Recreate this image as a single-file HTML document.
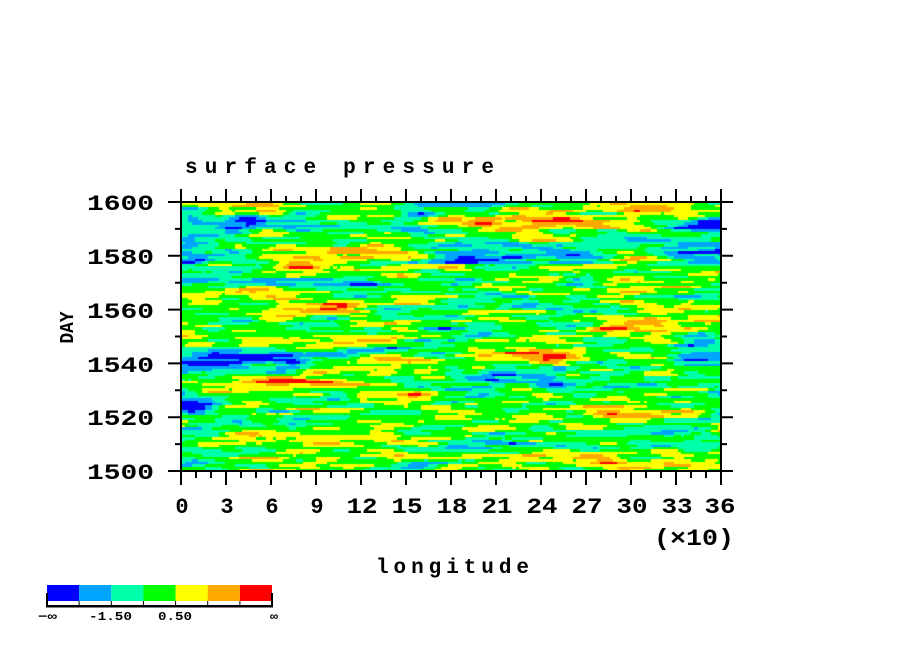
<!DOCTYPE html>
<html><head><meta charset="utf-8">
<style>
html,body{margin:0;padding:0;background:#fff;}
#wrap{position:relative;width:904px;height:654px;overflow:hidden;background:#fff;}
#cv{position:absolute;left:181px;top:202px;width:540px;height:269px;background:#00ff00;}
svg{position:absolute;left:0;top:0;}
text{font-family:"Liberation Mono","DejaVu Sans Mono",monospace;fill:#000;}
</style></head>
<body><div id="wrap">
<canvas id="cv" width="540" height="269"></canvas>
<svg width="904" height="654" viewBox="0 0 904 654" xmlns="http://www.w3.org/2000/svg">
<g stroke="#000" stroke-width="2" fill="none">
<rect x="181" y="202" width="540" height="269"/>
<path id="ticks" d=""/>
</g>
<text x="185" y="173" font-size="21" font-weight="bold" textLength="309" lengthAdjust="spacing">surface pressure</text>
<g font-size="22" font-weight="bold">
<text x="87" y="210" textLength="67" lengthAdjust="spacingAndGlyphs">1600</text>
<text x="87" y="264" textLength="67" lengthAdjust="spacingAndGlyphs">1580</text>
<text x="87" y="318" textLength="67" lengthAdjust="spacingAndGlyphs">1560</text>
<text x="87" y="372" textLength="67" lengthAdjust="spacingAndGlyphs">1540</text>
<text x="87" y="425" textLength="67" lengthAdjust="spacingAndGlyphs">1520</text>
<text x="87" y="479" textLength="67" lengthAdjust="spacingAndGlyphs">1500</text>
</g>
<g font-size="22" font-weight="bold" text-anchor="middle">
<text x="182" y="513">0</text>
<text x="227" y="513">3</text>
<text x="272" y="513">6</text>
<text x="317" y="513">9</text>
<text x="362" y="513" textLength="31" lengthAdjust="spacingAndGlyphs">12</text>
<text x="407" y="513" textLength="31" lengthAdjust="spacingAndGlyphs">15</text>
<text x="452" y="513" textLength="31" lengthAdjust="spacingAndGlyphs">18</text>
<text x="497" y="513" textLength="31" lengthAdjust="spacingAndGlyphs">21</text>
<text x="542" y="513" textLength="31" lengthAdjust="spacingAndGlyphs">24</text>
<text x="587" y="513" textLength="31" lengthAdjust="spacingAndGlyphs">27</text>
<text x="632" y="513" textLength="31" lengthAdjust="spacingAndGlyphs">30</text>
<text x="677" y="513" textLength="31" lengthAdjust="spacingAndGlyphs">33</text>
<text x="720" y="513" textLength="31" lengthAdjust="spacingAndGlyphs">36</text>
</g>
<text x="654" y="545" font-size="23" font-weight="bold" textLength="80" lengthAdjust="spacingAndGlyphs">(×10)</text>
<text x="376" y="573" font-size="21" font-weight="bold" textLength="153" lengthAdjust="spacing">longitude</text>
<text transform="translate(73,327.5) rotate(-90)" x="0" y="0" font-size="19" font-weight="bold" text-anchor="middle" textLength="32" lengthAdjust="spacingAndGlyphs">DAY</text>
<g>
<rect x="47" y="585" width="32.2" height="16" fill="#0000ff"/>
<rect x="79.1" y="585" width="32.2" height="16" fill="#00a5ff"/>
<rect x="111.3" y="585" width="32.2" height="16" fill="#00ffaa"/>
<rect x="143.4" y="585" width="32.2" height="16" fill="#00ff00"/>
<rect x="175.6" y="585" width="32.2" height="16" fill="#ffff00"/>
<rect x="207.7" y="585" width="32.2" height="16" fill="#ffaa00"/>
<rect x="239.9" y="585" width="32.1" height="16" fill="#ff0000"/>
<rect x="46" y="605" width="227" height="2.5" fill="#000"/>
<rect x="46" y="593" width="2" height="14" fill="#000"/>
<rect x="271" y="593" width="2" height="14" fill="#000"/>
<rect x="78.6" y="601" width="1" height="4" fill="#000"/>
<rect x="110.8" y="601" width="1" height="4" fill="#000"/>
<rect x="142.9" y="601" width="1" height="4" fill="#000"/>
<rect x="175.1" y="601" width="1" height="4" fill="#000"/>
<rect x="207.2" y="601" width="1" height="4" fill="#000"/>
<rect x="239.4" y="601" width="1" height="4" fill="#000"/>
</g>
<g font-size="12" font-weight="bold" text-anchor="middle">
<text x="47.5" y="620" textLength="19" lengthAdjust="spacingAndGlyphs">−∞</text>
<text x="110.5" y="620" textLength="43" lengthAdjust="spacingAndGlyphs">-1.50</text>
<text x="175" y="620" textLength="34" lengthAdjust="spacingAndGlyphs">0.50</text>
<text x="274" y="620" textLength="8" lengthAdjust="spacingAndGlyphs">∞</text>
</g>
</svg>
</div>
<script>
(function(){
  var d="";
  var i,y,x;
  for(i=0;i<=5;i++){y=471-i*53.8;d+="M168 "+y+"H181M721 "+y+"H733";}
  for(i=0;i<5;i++){y=471-(i+0.5)*53.8;d+="M175 "+y+"H181M721 "+y+"H727";}
  for(i=0;i<=36;i++){x=181+i*15;
    if(i%3==0){d+="M"+x+" 471V485M"+x+" 202V189";}
    else{d+="M"+x+" 471V478M"+x+" 202V196";}
  }
  document.getElementById("ticks").setAttribute("d",d);

  var cv=document.getElementById("cv");
  var ctx=cv.getContext("2d");
  var W=540,H=269,NX=160,NY=110;
  var s=2463534242;
  function r(){s^=(s<<13);s>>>=0;s^=(s>>>17);s^=(s<<5);s>>>=0;return s/4294967296;}
  function g(){var u=0;for(var k=0;k<6;k++)u+=r();return (u-3)*1.4142;}
  var B=[
   [5.5,1597.5,2.5,1.5,1.4],[12,1582,1.8,2,1.3],[15,1581,2,2,1.3],[10,1575,6,3,0.7],
   [4.5,1567,2.5,1.5,1.2],[9,1560,2.2,2,1.6],[14.5,1563,2,1.5,1.5],[24,1593,3,2,2.2],
   [32,1598,3.5,1.8,1.3],[25,1573,3,2.5,1.2],[32,1565,2,2,0.8],[32,1555,3,3,1.2],
   [10,1549,7,1.5,1.0],[7,1533,3.5,1.8,2.2],[15,1541,2,1.8,1.5],[24.5,1543,2.8,2,2.2],
   [15,1527,1.8,1.5,1.1],[11.5,1512,2.5,2,1.3],[31.5,1522,2.5,2,1.4],[25,1517,6,3,0.5],
   [28,1504,5,3,1.3],[5,1511,4,2,0.8],[20,1525,3,2,0.4],[22,1587,4,1.5,0.7],
   [4.5,1592,3,1.5,-1.6],[0.8,1580,1.5,5,-1.3],[3,1571,3.5,2,-1.3],[11.5,1570,3,1,-1.1],
   [19,1597.5,1.8,1.5,-1.6],[21,1581,4.5,3,-1.3],[19.5,1578.5,2.5,1,-1.1],[35,1582,1.8,2.5,-1.5],
   [19.5,1552,2.5,2,-1.6],[2,1541,3,3.5,-2.1],[7,1542,3,1.5,-1.0],[20.5,1535,3,2.5,-2.2],
   [35,1543,2,3,-1.6],[1,1524,1.5,4,-1.5],[35,1520,1.3,2,-1.5],[20,1510,3,3,-1.0],
   [1,1506,2,3,-1.0],[35,1592,1.5,2,-1.2],[27,1585,4,2,-0.5],[16,1590,3,1.5,-0.5]
  ];
  var MX=20,MY=42,M=[];
  for(var a=0;a<MX;a++){M.push([]);for(var b=0;b<MY;b++)M[a].push(g());}
  function mid(lon,day){
    var fx=lon/2, fy=(1600-day)/2.5;
    var ax=Math.floor(fx),ay=Math.floor(fy),tx=fx-ax,ty=fy-ay;
    if(ax>MX-2){ax=MX-2;tx=1;} if(ay>MY-2){ay=MY-2;ty=1;}
    return M[ax][ay]*(1-tx)*(1-ty)+M[ax+1][ay]*tx*(1-ty)+M[ax][ay+1]*(1-tx)*ty+M[ax+1][ay+1]*tx*ty;
  }
  var wt=[],HW=7;
  for(i=-HW;i<=HW;i++)wt.push(HW+1-Math.abs(i));
  var nrm=0;for(i=0;i<wt.length;i++)nrm+=wt[i]*wt[i];nrm=Math.sqrt(nrm);
  var prev=null,rho=0.35,q=Math.sqrt(1-rho*rho);
  var CI=[];
  for(var j=0;j<NY;j++){
    var w=[];for(i=0;i<NX+wt.length;i++)w.push(g());
    var row=[];
    for(i=0;i<NX;i++){var t=0;for(var k=0;k<wt.length;k++)t+=wt[k]*w[i+k];t/=nrm;
      if(prev)t=rho*prev[i]+q*t;row.push(t);}
    prev=row;
    var day=1600-(j+0.5)*100/NY;
    var crow=[];
    for(i=0;i<NX;i++){
      var lon=(i+0.5)*36/NX;
      var v=-0.2+0.4*mid(lon,day)+0.7*row[i];
      for(var n=0;n<B.length;n++){var bb=B[n];var dx=(lon-bb[0])/bb[2],dy=(day-bb[1])/bb[3];
        var e=0.5*(dx*dx+dy*dy); if(e<12)v+=1.2*bb[4]*Math.exp(-e);}
      var c;
      if(v<-2.5)c=0;else if(v<-1.5)c=1;else if(v<-0.5)c=2;else if(v<0.5)c=3;else if(v<1.5)c=4;else if(v<2.5)c=5;else c=6;
      crow.push(c);
    }
    CI.push(crow);
  }
  var P=[[0,0,255],[0,165,255],[0,255,170],[0,255,0],[255,255,0],[255,170,0],[255,0,0]];
  var img=ctx.createImageData(W,H),D=img.data;
  for(var py=0;py<H;py++){
    var jj=Math.min(NY-1,Math.floor(py*NY/H));
    for(var px=0;px<W;px++){
      var ii=Math.min(NX-1,Math.floor(px*NX/W));
      var p=P[CI[jj][ii]],o=(py*W+px)*4;
      D[o]=p[0];D[o+1]=p[1];D[o+2]=p[2];D[o+3]=255;
    }
  }
  ctx.putImageData(img,0,0);
})();
</script>
</body></html>
